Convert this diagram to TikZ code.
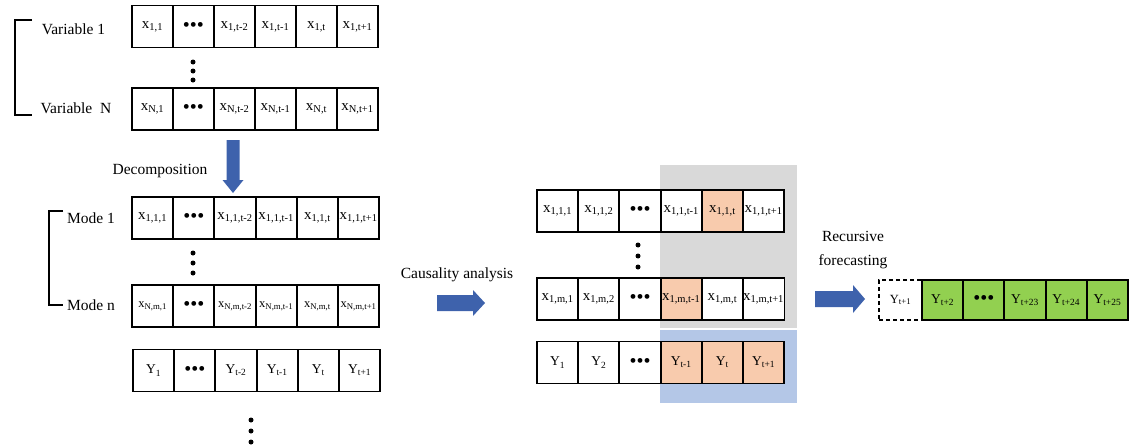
\documentclass[tikz,border=0pt]{standalone}
\usepackage{fontspec}
\setmainfont{Liberation Serif}
\usetikzlibrary{positioning}
\definecolor{arrblue}{RGB}{62,98,172}
\definecolor{boxgray}{RGB}{217,217,217}
\definecolor{boxblue}{RGB}{180,199,231}
\definecolor{cellorange}{RGB}{248,203,173}
\definecolor{cellgreen}{RGB}{146,208,80}
\tikzstyle{cell}=[draw,fill=white,line width=1.7pt,minimum width=41pt,minimum height=42pt,inner sep=0.5pt,outer sep=0pt,font=\fontsize{15}{17}\selectfont]
\tikzstyle{smallcell}=[cell,font=\fontsize{12.5}{14}\selectfont]
\tikzstyle{ycell}=[cell,font=\fontsize{13.5}{15}\selectfont]
\tikzstyle{lbl}=[font=\fontsize{15.5}{17}\selectfont,inner sep=0pt]
\tikzstyle{brk}=[draw,line width=1.8pt]
\tikzstyle{bigarr}=[fill=arrblue]
\newcommand{\hdots}{{\fontsize{20}{20}\selectfont\textbullet\textbullet\textbullet}}
\newcommand{\vx}[2]{#1\textsubscript{#2}}

\begin{document}
\begin{tikzpicture}[x=1pt,y=-1pt]
  \useasboundingbox (0,0) rectangle (1138,447);
  % input variables
  \foreach \lab [count=\i] in {{\vx{x}{1,1}},\hdots,{\vx{x}{1,t-2}},{\vx{x}{1,t-1}},{\vx{x}{1,t}},{\vx{x}{1,t+1}}}
    \node[cell] (va\i) at ({132+41*(\i-0.5)},26.5) {\lab};
  \foreach \lab [count=\i] in {{\vx{x}{N,1}},\hdots,{\vx{x}{N,t-2}},{\vx{x}{N,t-1}},{\vx{x}{N,t}},{\vx{x}{N,t+1}}}
    \node[cell] (vb\i) at ({132+41*(\i-0.5)},109) {\lab};
  \foreach \d in {62,71,80} \fill (193,\d) circle (2.5);
  \node[lbl] (var1) at (73.5,29) {Variable 1};
  \node[lbl] (varN) at (76,108) {Variable~~N};
  \draw[brk] (32,20) -- (15,20) -- (15,115) -- (32,115);

  % decomposition
  \fill[bigarr] (226.5,140) -- (239.5,140) -- (239.5,180) -- (243.5,180) -- (233,193)
    -- (222.5,180) -- (226.5,180) -- cycle;
  \node[lbl] (dec) at (160,171) {Decomposition};

  % modes
  \foreach \lab [count=\i] in {{\vx{x}{1,1,1}},\hdots,{\vx{x}{1,1,t-2}},{\vx{x}{1,1,t-1}},{\vx{x}{1,1,t}},{\vx{x}{1,1,t+1}}}
    \node[cell] (ma\i) at ({132+41.2*(\i-0.5)},218) {\lab};
  \foreach \lab [count=\i] in {{\vx{x}{N,m,1}},\hdots,{\vx{x}{N,m,t-2}},{\vx{x}{N,m,t-1}},{\vx{x}{N,m,t}},{\vx{x}{N,m,t+1}}}
    \node[smallcell] (mb\i) at ({132+41.2*(\i-0.5)},306) {\lab};
  \foreach \d in {253,263,273} \fill (193,\d) circle (2.5);
  \node[lbl] (mode1) at (91,218) {Mode 1};
  \node[lbl] (moden) at (91,305) {Mode n};
  \draw[brk] (63,211) -- (49,211) -- (49,305) -- (63,305);

  % target
  \foreach \lab [count=\i] in {{\vx{Y}{1}},\hdots,{\vx{Y}{t-2}},{\vx{Y}{t-1}},{\vx{Y}{t}},{\vx{Y}{t+1}}}
    \node[ycell] (ya\i) at ({133+41.2*(\i-0.5)},370.5) {\lab};
  \foreach \d in {420,431,442} \fill (251,\d) circle (2.5);

  % causality analysis
  \fill[bigarr] (437,295) -- (473,295) -- (473,290) -- (485,303) -- (473,316)
    -- (473,311) -- (437,311) -- cycle;
  \node[lbl] (caus) at (457,275) {Causality analysis};
  \fill[boxgray] (660,165) rectangle (797,328);
  \fill[boxblue] (660,330) rectangle (797,403);
  \foreach \lab/\col [count=\i] in {{\vx{x}{1,1,1}}/white,{\vx{x}{1,1,2}}/white,\hdots/white,{\vx{x}{1,1,t-1}}/white,{\vx{x}{1,1,t}}/cellorange,{\vx{x}{1,1,t+1}}/white}
    \node[cell,fill=\col] (ca\i) at ({537+41.2*(\i-0.5)},211) {\lab};
  \foreach \lab/\col [count=\i] in {{\vx{x}{1,m,1}}/white,{\vx{x}{1,m,2}}/white,\hdots/white,{\vx{x}{1,m,t-1}}/cellorange,{\vx{x}{1,m,t}}/white,{\vx{x}{1,m,t+1}}/white}
    \node[cell,fill=\col] (cb\i) at ({537+41.2*(\i-0.5)},299) {\lab};
  \foreach \lab/\col [count=\i] in {{\vx{Y}{1}}/white,{\vx{Y}{2}}/white,\hdots/white,{\vx{Y}{t-1}}/cellorange,{\vx{Y}{t}}/cellorange,{\vx{Y}{t+1}}/cellorange}
    \node[ycell,fill=\col] (cy\i) at ({537+41.2*(\i-0.5)},362.5) {\lab};
  \foreach \d in {245,256,267} \fill (638,\d) circle (2.5);

  % recursive forecasting
  \fill[bigarr] (815,291) -- (853,291) -- (853,285) -- (865,299) -- (853,313)
    -- (853,307) -- (815,307) -- cycle;
  \node[lbl,align=center] (rec) at (853,250) {Recursive\\[7pt]forecasting};
  \node[smallcell,minimum height=40pt,minimum width=43pt,dash pattern=on 4pt off 3pt] (f0) at (900.5,300) {\vx{Y}{t+1}};
  \foreach \lab [count=\i] in {{\vx{Y}{t+2}},\hdots,{\vx{Y}{t+23}},{\vx{Y}{t+24}},{\vx{Y}{t+25}}}
    \node[ycell,fill=cellgreen,minimum height=40pt] (f\i) at ({922+41.2*(\i-0.5)},300) {\lab};
\end{tikzpicture}
\end{document}
